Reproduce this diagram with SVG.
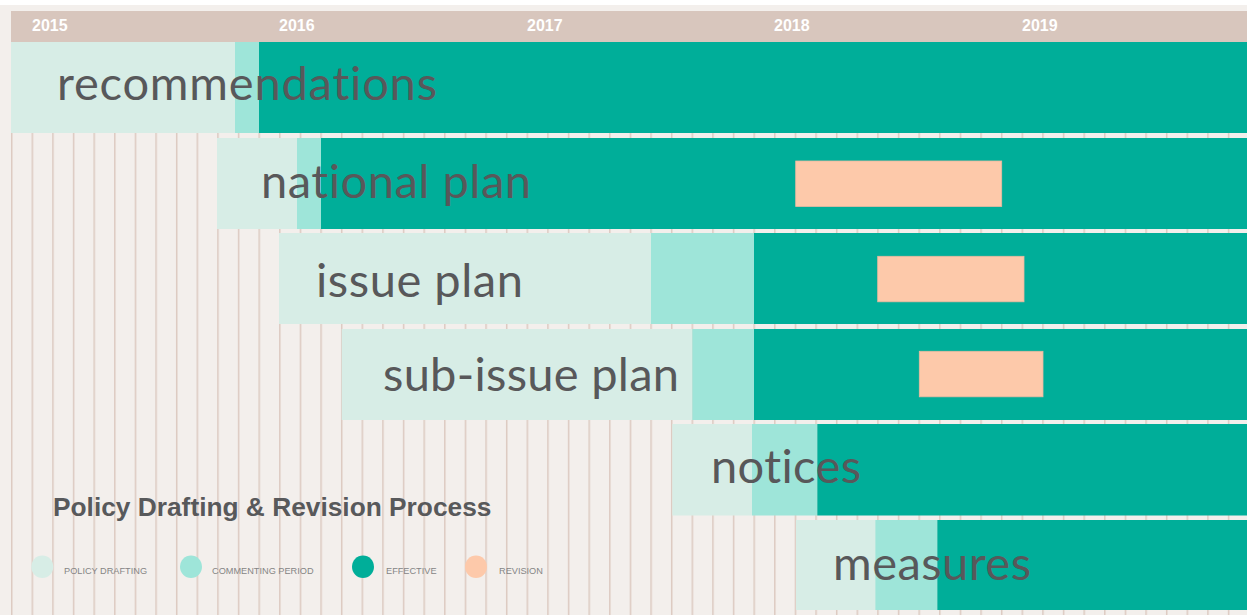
<svg xmlns="http://www.w3.org/2000/svg" width="1247" height="615" viewBox="0 0 1247 615">
<defs>
<pattern id="grid" x="10.95" y="0" width="20.625" height="20" patternUnits="userSpaceOnUse">
<rect x="0" y="0" width="1.5" height="20" fill="#dccac1"/>
</pattern>
<style>
.draft{fill:#d7ede6}
.comment{fill:#9ee5d9}
.effective{fill:#00ae99}
.revision{fill:#fdc9aa;stroke:#e9b9a0;stroke-width:0.8}
.label{font-family:Lato,"Noto Sans",sans-serif;font-size:47px;fill:#58585a;font-variant-ligatures:none;font-feature-settings:"liga" 0}
.year{font-family:"Liberation Sans",Arial,sans-serif;font-weight:bold;font-size:16px;fill:#ffffff}
.title{font-family:"Liberation Sans",Arial,sans-serif;font-weight:bold;font-size:26.3px;fill:#58595b}
.legend{font-family:"Liberation Sans",Arial,sans-serif;font-size:9.2px;fill:#858585}
</style>
</defs>
<rect x="0" y="0" width="1247" height="615" fill="#ffffff"/>
<rect x="0" y="5" width="1247" height="610" fill="#f3efec"/>
<rect x="11" y="42" width="1236" height="573" fill="url(#grid)"/>
<g id="header">
<rect x="11" y="11" width="1236" height="31" fill="#d8c6bd"/>
<text class="year" x="32" y="31">2015</text>
<text class="year" x="279" y="31">2016</text>
<text class="year" x="527" y="31">2017</text>
<text class="year" x="774" y="31">2018</text>
<text class="year" x="1022" y="31">2019</text>
</g>
<g id="row-recommendations">
<rect class="draft" x="11" y="42" width="224" height="91"/>
<rect class="comment" x="235" y="42" width="24" height="91"/>
<rect class="effective" x="259" y="42" width="988" height="91"/>
<text class="label" x="57" y="100" textLength="380" lengthAdjust="spacing">recommendations</text>
</g>
<g id="row-national-plan">
<rect class="draft" x="217" y="138" width="80" height="91"/>
<rect class="comment" x="297" y="138" width="24" height="91"/>
<rect class="effective" x="321" y="138" width="926" height="91"/>
<rect class="revision" x="795.7" y="161" width="206" height="45.5"/>
<text class="label" x="261" y="198" textLength="270" lengthAdjust="spacing">national plan</text>
</g>
<g id="row-issue-plan">
<rect class="draft" x="279" y="233" width="372" height="91"/>
<rect class="comment" x="651" y="233" width="103" height="91"/>
<rect class="effective" x="754" y="233" width="493" height="91"/>
<rect class="revision" x="877.7" y="256.3" width="146.3" height="45.5"/>
<text class="label" x="316" y="297" textLength="207" lengthAdjust="spacing">issue plan</text>
</g>
<g id="row-sub-issue-plan">
<rect class="draft" x="341.7" y="329" width="350.6" height="91"/>
<rect class="comment" x="692.3" y="329" width="61.7" height="91"/>
<rect class="effective" x="754" y="329" width="493" height="91"/>
<rect class="revision" x="919.3" y="351.3" width="123.7" height="45.5"/>
<text class="label" x="383" y="391" textLength="296" lengthAdjust="spacing">sub-issue plan</text>
</g>
<g id="row-notices">
<rect class="draft" x="672.3" y="424" width="79.7" height="91.5"/>
<rect class="comment" x="752" y="424" width="65.3" height="91.5"/>
<rect class="effective" x="817.3" y="424" width="429.7" height="91.5"/>
<text class="label" x="711" y="483" textLength="150" lengthAdjust="spacing">notices</text>
</g>
<g id="row-measures">
<rect class="draft" x="796" y="520" width="79.3" height="90"/>
<rect class="comment" x="875.3" y="520" width="62" height="90"/>
<rect class="effective" x="937.3" y="520" width="309.7" height="90"/>
<text class="label" x="833" y="580" textLength="198" lengthAdjust="spacing">measures</text>
</g>
<g id="legend">
<text class="title" x="53" y="516">Policy Drafting &amp; Revision Process</text>
<ellipse cx="42.3" cy="566.7" rx="11" ry="11.3" class="draft"/>
<text class="legend" x="64" y="574">POLICY DRAFTING</text>
<ellipse cx="191" cy="566.7" rx="11" ry="11.3" class="comment"/>
<text class="legend" x="212" y="574">COMMENTING PERIOD</text>
<ellipse cx="363" cy="566.7" rx="11" ry="11.3" class="effective"/>
<text class="legend" x="386" y="574">EFFECTIVE</text>
<ellipse cx="476" cy="566.7" rx="11" ry="11.3" fill="#fdc9aa"/>
<text class="legend" x="499" y="574">REVISION</text>
</g>
<g id="connectors"/>
</svg>
